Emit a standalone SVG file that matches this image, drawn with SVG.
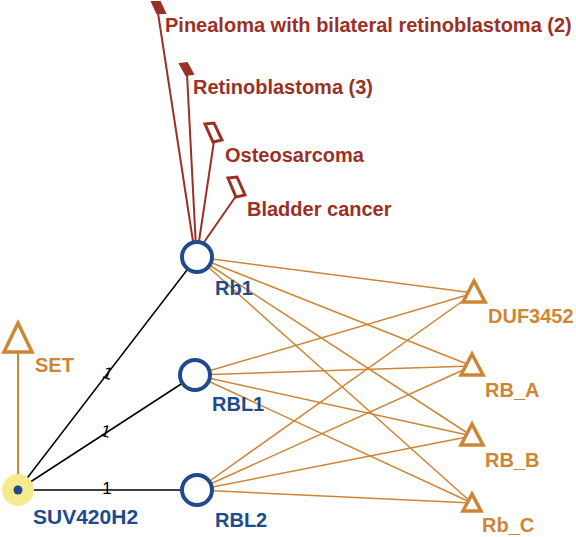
<svg xmlns="http://www.w3.org/2000/svg" width="576" height="537" viewBox="0 0 576 537">
<style>
.gene{fill:#fff;stroke:#1f4b8c;stroke-width:4}
.tri{fill:#fff;stroke:#cd8636;stroke-width:3.5;stroke-linejoin:miter}
.dis{fill:#9b3126;stroke:#9b3126;stroke-width:2}
.dish{fill:#fff;stroke:#9b3126;stroke-width:3}
.lb{font-family:"Liberation Sans",Arial,sans-serif;font-weight:bold;font-size:20px;fill:#1f4b8c}
.lo{font-family:"Liberation Sans",Arial,sans-serif;font-weight:bold;font-size:20px;fill:#cd8636}
.lr{font-family:"Liberation Sans",Arial,sans-serif;font-weight:bold;font-size:20px;fill:#9b3126}
.one{font-family:"Liberation Sans",Arial,sans-serif;font-size:17px;fill:#000}
.eo{stroke:#cd8636;stroke-width:1.5;fill:none}
.er{stroke:#9b3126;stroke-width:2;fill:none}
.ek{stroke:#000;stroke-width:1.5;fill:none}
</style>
<rect width="576" height="537" fill="#fff"/>
<g id="connectors">
<line class="er" x1="158" y1="13" x2="194" y2="248"/>
<line class="er" x1="187" y1="74" x2="196" y2="248"/>
<line class="er" x1="214" y1="141" x2="198" y2="248"/>
<line class="er" x1="236" y1="196" x2="200" y2="248"/>
<line class="eo" x1="197" y1="257" x2="474" y2="293"/>
<line class="eo" x1="197" y1="257" x2="472" y2="366"/>
<line class="eo" x1="197" y1="257" x2="472" y2="436"/>
<line class="eo" x1="197" y1="257" x2="472" y2="503"/>
<line class="eo" x1="195" y1="375" x2="474" y2="293"/>
<line class="eo" x1="195" y1="375" x2="472" y2="366"/>
<line class="eo" x1="195" y1="375" x2="472" y2="436"/>
<line class="eo" x1="195" y1="375" x2="472" y2="503"/>
<line class="eo" x1="197" y1="490" x2="474" y2="293"/>
<line class="eo" x1="197" y1="490" x2="472" y2="366"/>
<line class="eo" x1="197" y1="490" x2="472" y2="436"/>
<line class="eo" x1="197" y1="490" x2="472" y2="503"/>
<line class="eo" x1="18" y1="490" x2="18" y2="350" style="stroke-width:2"/>
<line class="ek" x1="18" y1="490" x2="197" y2="257"/>
<line class="ek" x1="18" y1="490" x2="195" y2="375"/>
<line class="ek" x1="18" y1="490" x2="197" y2="490"/>
<text class="one" x="108" y="379" text-anchor="middle" transform="rotate(20 108 373)">1</text>
<text class="one" x="106" y="437" text-anchor="middle" transform="rotate(15 106 431)">1</text>
<text class="one" x="107" y="494" text-anchor="middle">1</text>
</g>
<g id="pinealoma">
<polygon class="dis" points="152,2 160,2 165,13 157,13"/>
<text class="lr" x="165" y="32">Pinealoma with bilateral retinoblastoma (2)</text>
</g>
<g id="retinoblastoma">
<polygon class="dis" points="180,64 187,63 193,74 186,75"/>
<text class="lr" x="193" y="94">Retinoblastoma (3)</text>
</g>
<g id="osteosarcoma">
<polygon class="dish" points="205,124 214,123 222,140 213,142"/>
<text class="lr" x="225" y="162">Osteosarcoma</text>
</g>
<g id="bladder">
<polygon class="dish" points="228,178 237,177 245,195 236,197"/>
<text class="lr" x="247" y="216">Bladder cancer</text>
</g>
<g id="Rb1">
<circle class="gene" cx="197" cy="257" r="15"/>
<text class="lb" x="215" y="295">Rb1</text>
</g>
<g id="RBL1">
<circle class="gene" cx="195" cy="375" r="15"/>
<text class="lb" x="212" y="411">RBL1</text>
</g>
<g id="RBL2">
<circle class="gene" cx="197" cy="490" r="15"/>
<text class="lb" x="215" y="527">RBL2</text>
</g>
<g id="SUV420H2">
<circle cx="18" cy="490" r="16" fill="#f4ec8c"/>
<circle cx="18" cy="490" r="4.5" fill="#1f4b8c"/>
<text class="lb" x="33" y="524" style="font-size:21px">SUV420H2</text>
</g>
<g id="SET">
<polygon class="tri" points="18,323 4,352 32,352"/>
<text class="lo" x="35" y="372">SET</text>
</g>
<g id="DUF3452">
<polygon class="tri" points="474,281 463,302 485,302"/>
<text class="lo" x="488" y="323">DUF3452</text>
</g>
<g id="RB_A">
<polygon class="tri" points="472,354 461,375 483,375"/>
<text class="lo" x="485" y="397">RB_A</text>
</g>
<g id="RB_B">
<polygon class="tri" points="472,424 461,445 483,445"/>
<text class="lo" x="485" y="467">RB_B</text>
</g>
<g id="Rb_C">
<polygon class="tri" points="472,494 463,511 481,511"/>
<text class="lo" x="482" y="532">Rb_C</text>
</g>
</svg>
